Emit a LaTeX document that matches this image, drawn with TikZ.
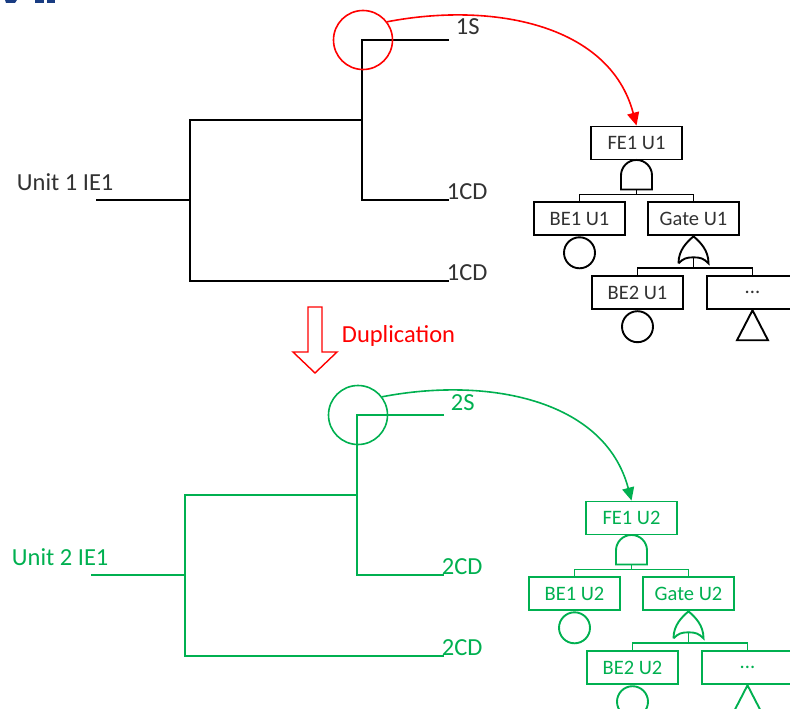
\documentclass[tikz,border=0pt]{standalone}
\usepackage{fontspec}
\setmainfont{Carlito}
\usetikzlibrary{positioning,arrows.meta}

\definecolor{dupred}{RGB}{255,0,0}
\definecolor{dupgreen}{RGB}{0,176,80}
\definecolor{ink}{RGB}{50,50,50}
\definecolor{logoblue}{RGB}{25,60,130}

\tikzset{
	bigtxt/.style={font=\fontsize{24.5}{28}\selectfont, inner sep=0pt},
	evbox/.style={draw, minimum width=91pt, minimum height=33pt, inner sep=0pt,
		font=\fontsize{20.5}{24}\selectfont},
	basic/.style={draw, circle, minimum size=31pt, inner sep=0pt},
}

\begin{document}
\begin{tikzpicture}[x=1pt, y=-1pt, line width=1.9pt]
\useasboundingbox (0,0) rectangle (790,709);

% cut-off logo at the top edge
\fill[logoblue] (5,0) -- (17,0) -- (15,3) -- (6,3) -- cycle;
\fill[logoblue] (35,0) rectangle (44,3);
\fill[logoblue] (47,0) rectangle (55,3);

\foreach \u/\sx/\sy/\linecol/\textcol/\markcol in
	{1/0/0/black/ink/dupred, 2/-5/375/dupgreen/dupgreen/dupgreen} {
\begin{scope}[shift={(\sx,\sy)}, color=\linecol, text=\textcol]
	% event tree
	\coordinate (ie\u) at (96,200);
	\coordinate (br\u) at (190,200);
	\coordinate (mid\u) at (362,120);
	\coordinate (cb\u) at (362,200);
	\coordinate (s\u) at (449,40);
	\coordinate (cda\u) at (449,200);
	\coordinate (cdb\u) at (449,281);
	\coordinate (low\u) at (190,281);
	\draw (ie\u) -- (br\u);
	\draw (s\u) -| (cb\u) -- (cda\u);
	\draw (mid\u) -| (low\u) -- (cdb\u);
	\node[bigtxt, anchor=base west] (unit\u) at (16,190) {Unit \u\ IE1};
	\node[bigtxt, anchor=base west] (ls\u) at (455,35) {\u S};
	\node[bigtxt, anchor=base west] (lcda\u) at (446,199) {\u CD};
	\node[bigtxt, anchor=base west] (lcdb\u) at (446,280) {\u CD};
	\node[circle, draw=\markcol, line width=1.6pt, minimum size=59pt, inner sep=0pt] (hl\u) at (363,40) {};

	% fault tree
	\node[evbox] (fe\u) at (636.5,143) {FE1 U\u};
	\node[evbox, below=41pt of fe\u, xshift=-57pt] (be1\u) {BE1 U\u};
	\node[evbox, below=41pt of fe\u, xshift=57pt] (gt\u) {Gate U\u};
	\node[evbox, below=39pt of gt\u, xshift=-56pt] (be2\u) {BE2 U\u};
	\node[evbox, below=39pt of gt\u, xshift=59pt] (more\u) {...};
	\node[basic, below=0pt of be1\u] (bc1\u) {};
	\node[basic, below=0pt of be2\u] (bc2\u) {};
	\draw (more\u.south) -- ++(-15.5,30) -- ++(31,0) -- cycle;

	% and gate
	\path (fe\u.south) ++(0,29) coordinate (and\u);
	\draw (and\u) ++(-15.5,0) -- ++(0,-14) arc[start angle=180, end angle=0, radius=15.5pt] -- ++(0,14) -- cycle;
	\draw (and\u) -- ++(0,5) -| (be1\u.north);
	\draw (and\u) ++(0,5) -| (gt\u.north);

	% or gate
	\path (gt\u.south) coordinate (ortop\u) ++(-15,27) coordinate (orl\u)
		++(30,0) coordinate (orr\u) ++(-15,-6) coordinate (ormid\u);
	\draw (orl\u) .. controls +(0,-13) and +(-7,6) .. (ortop\u)
		.. controls +(7,6) and +(0,-13) .. (orr\u)
		.. controls +(-5,-5) and +(7,0) .. (ormid\u)
		.. controls +(-7,0) and +(5,-5) .. (orl\u);
	\draw (ormid\u) -- ++(0,11) -| (be2\u.north);
	\draw (ormid\u) ++(0,11) -| (more\u.north);

	\draw[\markcol, line width=1.6pt, -{Triangle[length=13pt, width=12pt]}]
		(hl\u.37) .. controls +(104,-20) and +(-27,-102) .. (fe\u.north);
\end{scope}
}

% duplication arrow
\draw[dupred, line width=1.4pt] (308,307) -- (322,307) -- (322,352) -- (337,352)
	-- (315,373) -- (293,352) -- (308,352) -- cycle;
\node[bigtxt, text=dupred, anchor=base west] (dup) at (341,342) {Duplication};

\end{tikzpicture}
\end{document}
